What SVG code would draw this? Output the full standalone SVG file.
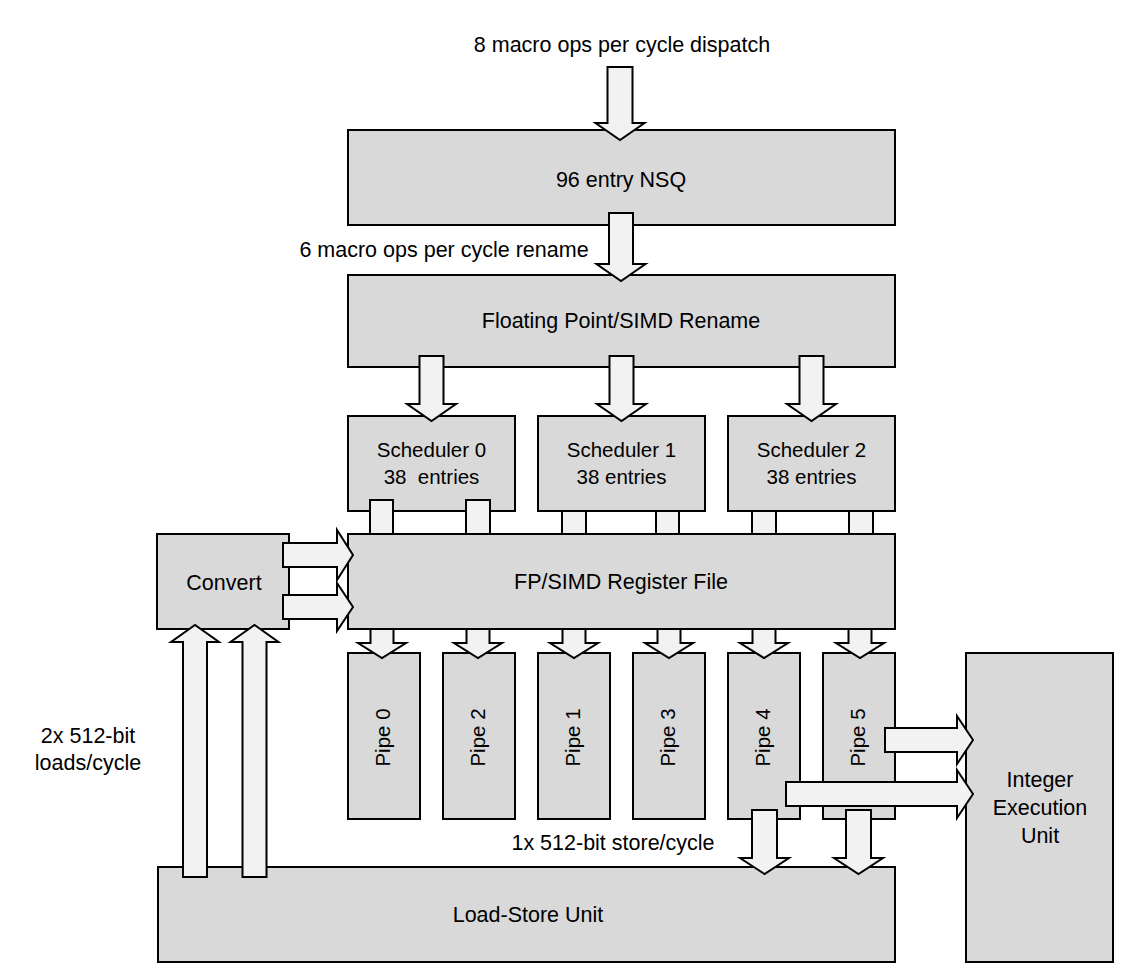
<svg xmlns="http://www.w3.org/2000/svg" width="1148" height="973" viewBox="0 0 1148 973">
<style>
.box{fill:#d9d9d9;stroke:#000;stroke-width:2}
.arr{fill:#f2f2f2;stroke:#000;stroke-width:2;stroke-linejoin:miter}
text{font-family:"Liberation Sans",Arial,sans-serif;font-size:21.5px;fill:#000}
.c{text-anchor:middle}
.s{font-size:20.5px}
</style>
<rect width="1148" height="973" fill="#fff"/>
<g id="nsq"><rect class="box" x="348" y="130" width="547" height="95"/><text class="c" x="621" y="187">96 entry NSQ</text></g>
<g id="rename"><rect class="box" x="348" y="275" width="547" height="92"/><text class="c" x="621" y="328">Floating Point/SIMD Rename</text></g>
<g id="sched0"><rect class="box" x="348" y="416" width="167" height="95"/><text class="c s" x="431.5" y="457">Scheduler 0</text><text class="c s" x="431.5" y="484" xml:space="preserve">38  entries</text></g>
<g id="sched1"><rect class="box" x="538" y="416" width="167" height="95"/><text class="c s" x="621.5" y="457">Scheduler 1</text><text class="c s" x="621.5" y="484">38 entries</text></g>
<g id="sched2"><rect class="box" x="728" y="416" width="167" height="95"/><text class="c s" x="811.5" y="457">Scheduler 2</text><text class="c s" x="811.5" y="484">38 entries</text></g>
<g id="regfile"><rect class="box" x="348" y="534" width="547" height="95"/><text class="c" x="621" y="589">FP/SIMD Register File</text></g>
<g id="convert"><rect class="box" x="157" y="534" width="132" height="95"/><text class="c" x="224" y="590">Convert</text></g>
<g id="pipe0"><rect class="box" x="348" y="653" width="72" height="166"/><text class="c s" transform="translate(390,737.5) rotate(-90)">Pipe 0</text></g>
<g id="pipe2"><rect class="box" x="443" y="653" width="72" height="166"/><text class="c s" transform="translate(485,737.5) rotate(-90)">Pipe 2</text></g>
<g id="pipe1"><rect class="box" x="538" y="653" width="72" height="166"/><text class="c s" transform="translate(580,737.5) rotate(-90)">Pipe 1</text></g>
<g id="pipe3"><rect class="box" x="633" y="653" width="72" height="166"/><text class="c s" transform="translate(675,737.5) rotate(-90)">Pipe 3</text></g>
<g id="pipe4"><rect class="box" x="728" y="653" width="72" height="166"/><text class="c s" transform="translate(770,737.5) rotate(-90)">Pipe 4</text></g>
<g id="pipe5"><rect class="box" x="823" y="653" width="72" height="166"/><text class="c s" transform="translate(865,737.5) rotate(-90)">Pipe 5</text></g>
<g id="lsu"><rect class="box" x="158" y="867" width="737" height="95"/><text class="c" x="528" y="922">Load-Store Unit</text></g>
<g id="int"><rect class="box" x="966" y="653" width="147" height="309"/><text class="c" x="1040" y="787">Integer</text><text class="c" x="1040" y="815">Execution</text><text class="c" x="1040" y="843">Unit</text></g>
<g id="labels">
<text class="c" x="622" y="52">8 macro ops per cycle dispatch</text>
<text class="c" x="444" y="257">6 macro ops per cycle rename</text>
<text class="c" x="88" y="743">2x 512-bit</text>
<text class="c" x="88" y="770">loads/cycle</text>
<text class="c" x="613" y="850">1x 512-bit store/cycle</text>
</g>
<g id="connectors">
<polygon class="arr" points="607.5,67 632.5,67 632.5,123 644.5,123 620,140 595.5,123 607.5,123"/>
<polygon class="arr" points="609,213 633,213 633,264 645.5,264 621,281 596.5,264 609,264"/>
<polygon class="arr" points="419.5,356 443.5,356 443.5,404 456,404 431.5,421 407,404 419.5,404"/>
<polygon class="arr" points="609.5,356 633.5,356 633.5,404 646,404 621.5,421 597,404 609.5,404"/>
<polygon class="arr" points="799.5,356 823.5,356 823.5,404 836,404 811.5,421 787,404 799.5,404"/>
<rect class="arr" x="370" y="500" width="23" height="34"/>
<rect class="arr" x="466" y="500" width="24" height="34"/>
<rect class="arr" x="562" y="511" width="24" height="23"/>
<rect class="arr" x="656" y="511" width="23" height="23"/>
<rect class="arr" x="752" y="511" width="24" height="23"/>
<rect class="arr" x="849" y="511" width="24" height="23"/>
<polygon class="arr" points="370.5,629 393.5,629 393.5,643 406,643 382,658 358,643 370.5,643"/>
<polygon class="arr" points="466.5,629 489.5,629 489.5,643 502,643 478,658 454,643 466.5,643"/>
<polygon class="arr" points="562.5,629 585.5,629 585.5,643 598,643 574,658 550,643 562.5,643"/>
<polygon class="arr" points="657.5,629 680.5,629 680.5,643 693,643 669,658 645,643 657.5,643"/>
<polygon class="arr" points="752.5,629 775.5,629 775.5,643 788,643 764,658 740,643 752.5,643"/>
<polygon class="arr" points="848.5,629 871.5,629 871.5,643 884,643 860,658 836,643 848.5,643"/>
<polygon class="arr" points="283,543 337,543 337,530 353,555 337,580 337,567 283,567"/>
<polygon class="arr" points="283,595 337,595 337,583 353,607 337,631 337,619 283,619"/>
<polygon class="arr" points="183,877 183,642 171,642 195,625 219,642 207,642 207,877"/>
<polygon class="arr" points="242.5,877 242.5,642 230.5,642 254.5,625 278.5,642 266.5,642 266.5,877"/>
<polygon class="arr" points="885,728 957,728 957,716 973,740 957,764 957,752 885,752"/>
<polygon class="arr" points="786,782 957,782 957,770 973,794 957,818 957,806 786,806"/>
<polygon class="arr" points="752,810 777,810 777,858 789,858 764.5,874 740,858 752,858"/>
<polygon class="arr" points="846,810 871,810 871,858 883,858 858.5,874 834,858 846,858"/>
</g>
</svg>
